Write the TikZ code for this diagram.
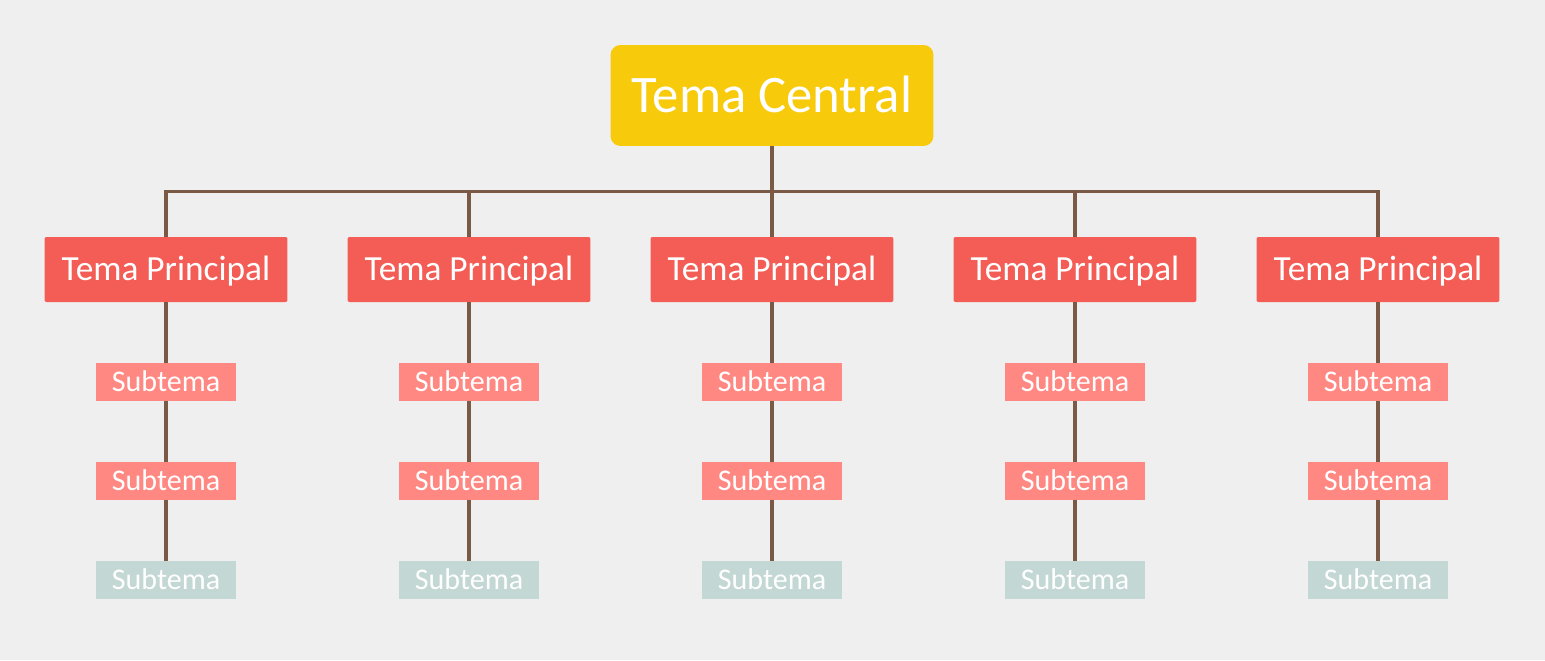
\documentclass[tikz,border=0pt]{standalone}
\usepackage{fontspec}
\setmainfont{Carlito}
\definecolor{bgcol}{HTML}{EFEFEF}
\definecolor{centralcol}{HTML}{F7CA0C}
\definecolor{maincol}{HTML}{F45D55}
\definecolor{subcol}{HTML}{FF8882}
\definecolor{lastcol}{HTML}{C3D7D4}
\definecolor{linkcol}{HTML}{7B5A45}

\begin{document}
\begin{tikzpicture}[x=0.02cm,y=-0.02cm,
  box/.style={inner sep=0pt, text=white, text depth=0pt},
  centralbox/.style={box, fill=centralcol, rounded corners=0.2cm, text height=19.6pt,
    minimum width=6.46cm, minimum height=2.02cm, font=\fontsize{30}{31}\selectfont},
  mainbox/.style={box, fill=maincol, rounded corners=0.04cm, text height=13pt,
    minimum width=4.86cm, minimum height=1.3cm, font=\fontsize{20.1}{21}\selectfont},
  subbox/.style={box, fill=subcol, text height=11pt,
    minimum width=2.8cm, minimum height=0.76cm, font=\fontsize{17.1}{18}\selectfont},
  lastbox/.style={subbox, fill=lastcol},
  link/.style={draw=linkcol, line width=1.8pt}]
\fill[bgcol] (0,0) rectangle (1545,660);

\node[centralbox] (central) at (772,95.5) {Tema Central};

\foreach \cx [count=\i] in {166,469,772,1075,1378} {
  \node[mainbox] (m\i) at (\cx,269.5) {Tema Principal};
  \node[subbox] (s\i a) at (\cx,382) {Subtema};
  \node[subbox] (s\i b) at (\cx,481) {Subtema};
  \node[lastbox] (s\i c) at (\cx,580) {Subtema};

  \draw[link] (central.south) -- ++(0,45) -| (m\i.north);
  \draw[link] (m\i) -- (s\i a);
  \draw[link] (s\i a) -- (s\i b);
  \draw[link] (s\i b) -- (s\i c);
}
\end{tikzpicture}
\end{document}
